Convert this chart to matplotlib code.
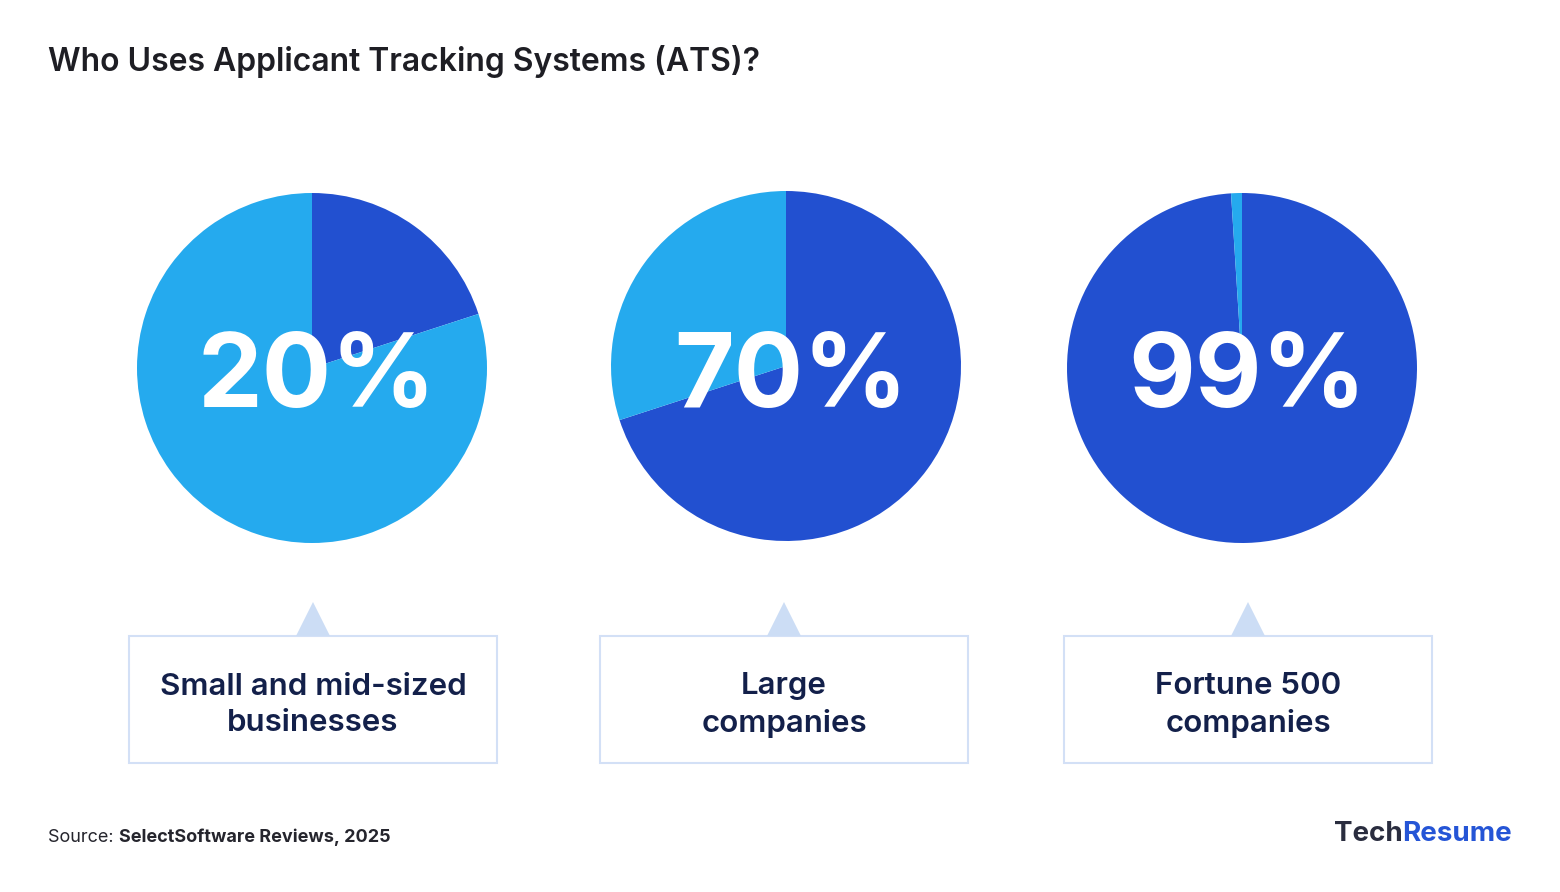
import matplotlib
matplotlib.use("Agg")
import matplotlib.pyplot as plt
from matplotlib.patches import Rectangle, Polygon

# Data
categories = ["Small and mid-sized\nbusinesses", "Large\ncompanies", "Fortune 500\ncompanies"]
ats_share = [20, 70, 99]
labels_pct = ["20%", "70%", "99%"]
title = "Who Uses Applicant Tracking Systems (ATS)?"

DARK = "#2250D0"
LIGHT = "#25AAEE"
BOX_EDGE = "#D3E0F6"
TRI = "#CCDDF5"
NAVY = "#13204A"
FONT = "Inter"

W, H = 1560, 892
fig = plt.figure(figsize=(W / 100, H / 100), dpi=100)
ax = fig.add_axes([0, 0, 1, 1])
ax.set_xlim(0, W)
ax.set_ylim(0, H)
ax.set_aspect("equal")
ax.axis("off")

def Y(y):
    return H - y

centers = [(312, 368), (786, 366), (1242, 368)]
radius = 175
box_x = [129, 600, 1064]
box_w, box_top, box_bot = 368, 636, 763

for i, v in enumerate(ats_share):
    cx, cy = centers[i]
    ax.pie([v, 100 - v], colors=[DARK, LIGHT], startangle=90, counterclock=False,
           center=(cx, Y(cy)), radius=radius, frame=True,
           wedgeprops=dict(linewidth=0))
    ax.text(cx + 5, Y(369), labels_pct[i], ha="center", va="center_baseline",
            color="white", fontsize=74, fontweight="bold", family=FONT)
    bx = box_x[i]
    ax.add_patch(Rectangle((bx, Y(box_bot)), box_w, box_bot - box_top,
                           facecolor="white", edgecolor=BOX_EDGE, linewidth=1.5))
    tc = bx + box_w / 2
    ax.add_patch(Polygon([(tc - 17, Y(box_top)), (tc + 17, Y(box_top)), (tc, Y(602))],
                         closed=True, facecolor=TRI, edgecolor="none"))
    ax.text(tc, Y(705), categories[i], ha="center", va="center", color=NAVY,
            fontsize=22.5, fontweight="semibold", family=FONT, linespacing=1.36)

ax.set_xlim(0, W)
ax.set_ylim(0, H)
ax.axis("off")

fig.text(48 / W, 1 - 61 / H, title, ha="left", va="center", fontsize=23,
         fontweight="semibold", family=FONT, color="#1E1E24")

t1 = fig.text(48 / W, 1 - 837 / H, "Source: ", ha="left", va="center", fontsize=13,
              family=FONT, color="#25252D")
fig.canvas.draw()
bb = t1.get_window_extent()
fig.text(bb.x1 / W, 1 - 837 / H, "SelectSoftware Reviews, 2025", ha="left", va="center",
         fontsize=13, fontweight="bold", family=FONT, color="#25252D")

t2 = fig.text(1512 / W, 1 - 834 / H, "Resume", ha="right", va="center", fontsize=20,
              fontweight="bold", family=FONT, color="#2555D6")
fig.canvas.draw()
bb2 = t2.get_window_extent()
fig.text(bb2.x0 / W, 1 - 834 / H, "Tech", ha="right", va="center", fontsize=20,
         fontweight="bold", family=FONT, color="#2A2D3F")

fig.savefig("out.png", dpi=100, facecolor="white")
